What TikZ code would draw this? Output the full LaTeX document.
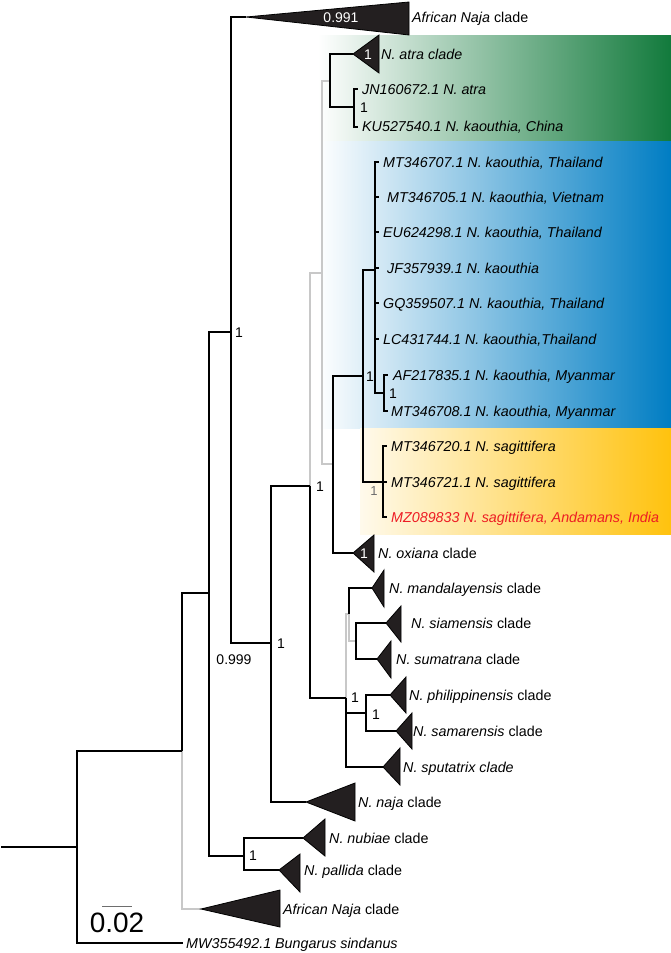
\documentclass[tikz,border=0pt]{standalone}
\usepackage{fontspec}
\setmainfont{Liberation Sans}
\definecolor{grn}{RGB}{18,122,60}
\definecolor{blu}{RGB}{0,125,195}
\definecolor{ylw}{RGB}{255,194,14}
\definecolor{ylwl}{RGB}{255,250,236}
\definecolor{lgray}{RGB}{200,200,200}
\definecolor{trif}{RGB}{35,31,32}
\definecolor{redt}{RGB}{237,28,36}
\definecolor{sbar}{RGB}{110,110,110}
\begin{document}
\begin{tikzpicture}[x=1pt,y=-1pt,
  br/.style={line width=2.4pt, black},
  gbr/.style={line width=2pt, lgray},
  lab/.style={anchor=west, inner sep=0pt, text height=10.2pt, text depth=0pt, font=\fontsize{14.3}{16}\selectfont\itshape},
  supl/.style={inner sep=0pt, text height=10pt, text depth=0pt, font=\fontsize{14}{16}\selectfont},
  clade/.style={fill=trif, draw=black, line width=0.8pt, line join=miter}
]
\useasboundingbox (0,0) rectangle (671,953);
% coloured backgrounds
\shade[left color=white, right color=grn] (318,35) rectangle (671,141);
\shade[left color=white, right color=blu] (318,141) rectangle (671,428);
\shade[left color=ylwl, right color=ylw] (360,428) rectangle (671,534);

% internal nodes and tips
\coordinate (rootstub) at (1,847);
\coordinate (root) at (77,847);
\coordinate (n182) at (182,751);
\coordinate (bung) at (183,943);
\coordinate (n209) at (209,593);
\coordinate (tAfB) at (201,909);
\coordinate (n231) at (231,332);
\coordinate (n244) at (244,856);
\coordinate (tAfT) at (246,17);
\coordinate (n271) at (271,643);
\coordinate (n310) at (310,486);
\coordinate (tNaja) at (306,802);
\coordinate (n322) at (322,273);
\coordinate (n346) at (346,698);
\coordinate (n330) at (330,81);
\coordinate (n333) at (333,464);
\coordinate (tAtra) at (353,54);
\coordinate (n354) at (354,107);
\coordinate (lJN) at (358,89);
\coordinate (lKU) at (358,127);
\coordinate (n363) at (363,376);
\coordinate (tOxi) at (353,553);
\coordinate (n375) at (375,270);
\coordinate (k1) at (379,162);
\coordinate (k2) at (379,197);
\coordinate (k3) at (379,232);
\coordinate (k4) at (379,268);
\coordinate (k5) at (379,303);
\coordinate (k6) at (379,339);
\coordinate (n384) at (384,393);
\coordinate (k7) at (388,375);
\coordinate (k8) at (388,411);
\coordinate (n383) at (383,482);
\coordinate (s1) at (387,446);
\coordinate (s2) at (387,482);
\coordinate (s3) at (387,517);
\coordinate (n349) at (349,614);
\coordinate (n366) at (366,713);
\coordinate (tSput) at (383,767);
\coordinate (tMand) at (372,588);
\coordinate (n356) at (356,641);
\coordinate (tSiam) at (386,623);
\coordinate (tSuma) at (377,659);
\coordinate (tPhil) at (390,695);
\coordinate (tSama) at (396,731);
\coordinate (tNub) at (303,838);
\coordinate (tPal) at (279,870);

% grey branches
\draw[gbr] (n182) |- (tAfB);
\draw[gbr] (n310) |- (n322);
\draw[gbr] (n322) |- (n330);
\draw[gbr] (n322) |- (n333);
\draw[gbr] (n346) |- (n349);
\draw[gbr] (n349) |- (n356);

% black branches
\draw[br] (rootstub) -- (root);
\draw[br] (root) |- (n182);
\draw[br] (root) |- (bung);
\draw[br] (n182) |- (n209);
\draw[br] (n209) |- (n231);
\draw[br] (n209) |- (n244);
\draw[br] (n244) |- (tNub);
\draw[br] (n244) |- (tPal);
\draw[br] (n231) |- (tAfT);
\draw[br] (n231) |- (n271);
\draw[br] (n271) |- (n310);
\draw[br] (n271) |- (tNaja);
\draw[br] (n310) |- (n346);
\draw[br] (n330) |- (tAtra);
\draw[br] (n330) |- (n354);
\draw[br] (n354) |- (lJN);
\draw[br] (n354) |- (lKU);
\draw[br] (n333) |- (n363);
\draw[br] (n333) |- (tOxi);
\draw[br] (n363) |- (n375);
\draw[br] (n363) |- (n383);
\foreach \k in {k1,k2,k3,k4,k5,k6} {\draw[br] (n375) |- (\k);}
\draw[br] (n375) |- (n384);
\draw[br] (n384) |- (k7);
\draw[br] (n384) |- (k8);
\foreach \k in {s1,s2,s3} {\draw[br] (n383) |- (\k);}
\draw[br] (n346) |- (n366);
\draw[br] (n346) |- (tSput);
\draw[br] (n349) |- (tMand);
\draw[br] (n356) |- (tSiam);
\draw[br] (n356) |- (tSuma);
\draw[br] (n366) |- (tPhil);
\draw[br] (n366) |- (tSama);

% collapsed clades
\filldraw[clade] (tAfT) -- (409,2) -- (409,35) -- cycle;
\filldraw[clade] (tAtra) -- (379,35) -- (379,73) -- cycle;
\filldraw[clade] (tOxi) -- (374,535) -- (374,572) -- cycle;
\filldraw[clade] (tMand) -- (384,570) -- (384,607) -- cycle;
\filldraw[clade] (tSiam) -- (401,606) -- (401,642) -- cycle;
\filldraw[clade] (tSuma) -- (391,641) -- (391,678) -- cycle;
\filldraw[clade] (tPhil) -- (406,677) -- (406,713) -- cycle;
\filldraw[clade] (tSama) -- (412,713) -- (412,749) -- cycle;
\filldraw[clade] (tSput) -- (400,748) -- (400,785) -- cycle;
\filldraw[clade] (tNaja) -- (355,783) -- (355,821) -- cycle;
\filldraw[clade] (tNub) -- (325,819) -- (325,856) -- cycle;
\filldraw[clade] (tPal) -- (300,854) -- (300,892) -- cycle;
\filldraw[clade] (tAfB) -- (280,890) -- (280,927) -- cycle;

% tip labels
\node[lab] (LAfT) at (412,17) {African Naja \textup{clade}};
\node[lab] (LAtra) at (381,54) {N. atra clade};
\node[lab] (LJN) at (362,89) {JN160672.1 N. atra};
\node[lab] (LKU) at (362,126) {KU527540.1 N. kaouthia, China};
\node[lab] (L1) at (383,162) {MT346707.1 N. kaouthia, Thailand};
\node[lab] (L2) at (387,197) {MT346705.1 N. kaouthia, Vietnam};
\node[lab] (L3) at (383,232) {EU624298.1 N. kaouthia, Thailand};
\node[lab] (L4) at (387,268) {JF357939.1 N. kaouthia};
\node[lab] (L5) at (383,303) {GQ359507.1 N. kaouthia, Thailand};
\node[lab] (L6) at (383,339) {LC431744.1 N. kaouthia,Thailand};
\node[lab] (L7) at (393,375) {AF217835.1 N. kaouthia, Myanmar};
\node[lab] (L8) at (391,411) {MT346708.1 N. kaouthia, Myanmar};
\node[lab] (S1) at (391,446) {MT346720.1 N. sagittifera};
\node[lab] (S2) at (391,482) {MT346721.1 N. sagittifera};
\node[lab, text=redt] (S3) at (391,517) {MZ089833 N. sagittifera, Andamans, India};
\node[lab] (LOxi) at (378,553) {N. oxiana \textup{clade}};
\node[lab] (LMand) at (389,588) {N. mandalayensis \textup{clade}};
\node[lab] (LSiam) at (411,623) {N. siamensis \textup{clade}};
\node[lab] (LSuma) at (396,659) {N. sumatrana \textup{clade}};
\node[lab] (LPhil) at (409,695) {N. philippinensis \textup{clade}};
\node[lab] (LSama) at (413,731) {N. samarensis \textup{clade}};
\node[lab] (LSput) at (403,767) {N. sputatrix clade};
\node[lab] (LNaja) at (358,802) {N. naja \textup{clade}};
\node[lab] (LNub) at (329,838) {N. nubiae \textup{clade}};
\node[lab] (LPal) at (304,870) {N. pallida \textup{clade}};
\node[lab] (LAfB) at (283,909) {African Naja \textup{clade}};
\node[lab] (LBung) at (186,943) {MW355492.1 Bungarus sindanus};

% support values
\node[supl, text=white] (v0991) at (341,17) {0.991};
\node[supl, text=white] (vAtra) at (368,54) {1};
\node[supl, text=white] (vOxi) at (364,553) {1};
\node[supl] (v231) at (239,332) {1};
\node[supl] (v0999) at (234,659) {0.999};
\node[supl] (v271) at (281,643) {1};
\node[supl] (v244) at (253,855) {1};
\node[supl] (v310) at (320,486) {1};
\node[supl] (v354) at (364,107) {1};
\node[supl] (v363) at (370,376) {1};
\node[supl] (v384) at (393,393) {1};
\node[supl, text=sbar, font=\fontsize{13}{15}\selectfont] (v383) at (374,490) {1};
\node[supl] (v346) at (355,697) {1};
\node[supl] (v366) at (376,714) {1};

% scale bar
\coordinate (sb1) at (102,906);
\coordinate (sb2) at (132,906);
\draw[line width=1pt, sbar] (sb1) -- (sb2);
\node[inner sep=0pt, text height=20pt, text depth=0pt, font=\fontsize{28}{30}\selectfont] (sbl) at (117,922) {0.02};
\end{tikzpicture}
\end{document}
